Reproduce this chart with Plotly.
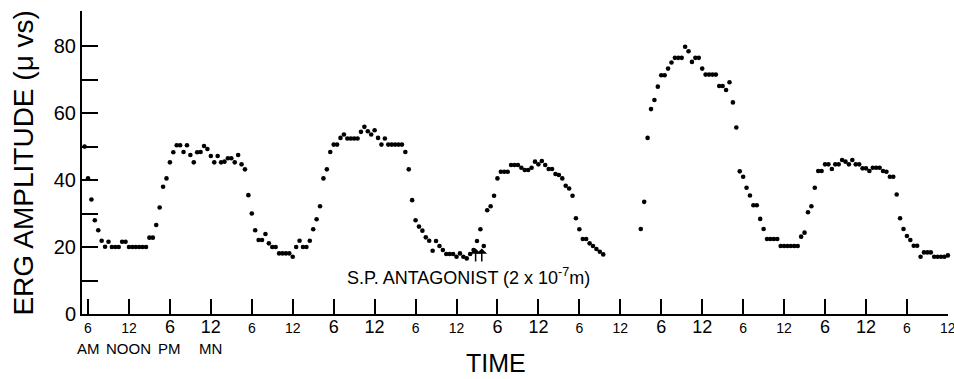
import plotly.graph_objects as go

# ERG amplitude (µV·s) sampled every half hour, starting 1 h before 6 AM on day 1.
# None marks the interval with no recording.
start_hour = -1.0
step_hour = 0.5
erg_uvs = [
    52, 50,
    40.5, 34.2, 28, 25, 21.9, 20.1, 21.6, 20, 20, 20,
    21.6, 21.6, 20, 20, 20, 20, 20, 20, 22.8, 22.8,
    26.6, 31.8, 38, 40.5, 45.3, 48.3, 50.4, 50.4, 48.4, 50.4,
    47.5, 45.3, 48.3, 48.4, 50.2, 49.3, 47.2, 45.3, 47.2, 45.3,
    45.5, 46.5, 46.5, 45.3, 47.5, 44.7, 43.2, 35.5, 30, 25,
    22.1, 22.1, 23.9, 21.1, 20, 20, 18.1, 18.1, 18.1, 18.1,
    17.1, 20, 21.9, 20, 20, 21.9, 25.3, 28.3, 32.2, 40.5,
    43.2, 48.4, 50.6, 50.6, 52.6, 53.6, 52.4, 52.4, 52.4, 52.4,
    54.4, 55.9, 54.6, 53.6, 54.9, 52.6, 50.6, 52.4, 50.6, 50.6,
    50.6, 50.6, 50.6, 48.4, 43.2, 34, 28, 26.1, 24.9, 22.9,
    21.9, 18.9, 21.8, 20.3, 19.1, 17.9, 17.9, 17.9, 17.1, 18.1,
    17.1, 16.6, 17.9, 19.1, 21.8, 25.3, 20.3, 31, 32.2, 35.3,
    40.5, 42.5, 42.5, 42.5, 44.5, 44.5, 44.5, 43.7, 43, 43,
    43.7, 45.5, 44.7, 45.7, 44.5, 43.3, 43.3, 41.8, 41.5, 40.5,
    38.3, 37.5, 35.3, 28.6, 25.3, 22.4, 22.4, 21.1, 20.3, 19.4,
    18.6, 17.8,
    None, None, None, None, None, None, None, None, None, None,
    25.4, 33.5, 52.6, 61.2, 63.9, 67.9, 71.3, 71.3,
    73.3, 75.1, 76.5, 76.5, 76.5, 79.8, 78.5, 75.3, 76.5, 76.5,
    73.3, 71.5, 71.5, 71.5, 71.5, 68.1, 68.1, 66.9, 69.2, 63.2,
    55.7, 42.6, 41, 37.7, 35.4, 32.5, 32.5, 28.4, 25.4, 22.4,
    22.4, 22.4, 22.4, 20.3, 20.3, 20.3, 20.3, 20.3, 20.3, 23.1,
    24.3, 30.4, 32.2, 37.7, 42.7, 42.7, 44.7, 44.7, 43.3, 44.7,
    44.7, 46, 45.5, 44.7, 46, 44.7, 44.7, 43.5, 43.5, 42.7,
    43.7, 43.7, 43.7, 42.7, 42.5, 41, 41, 35.7, 28.6, 25.4,
    23.3, 22.1, 20.4, 20.4, 17.1, 18.4, 18.4, 18.4, 17.1, 17.1,
    17.1, 17.1, 17.5, 17.5,
]
time_h = [start_hour + step_hour * i for i in range(len(erg_uvs))]

# Clock-time ticks every 6 h; evening and midnight labels are drawn larger.
tick_hours = [0, 6, 12, 18, 24, 30, 36, 42, 48, 54, 60, 66, 72, 78, 84, 90,
              96, 102, 108, 114, 120, 126]
tick_clock = ["6", "12", "6", "12", "6", "12", "6", "12", "6", "12", "6",
              "12", "6", "12", "6", "12", "6", "12", "6", "12", "6", "12"]
tick_is_large = [False, False, True, True] * 5 + [False, False]
period_names = ["AM", "NOON", "PM", "MN"]
period_hours = [0, 6, 12, 18]

y_ticks = [0, 10, 20, 30, 40, 50, 60, 70, 80]
y_labels = ["0", "", "20", "", "40", "", "60", "", "80"]

# Drug application marks
drug_hours = [56.8, 57.7]
drug_label = "S.P. ANTAGONIST (2 x 10<sup>-7</sup>m)"

FONT = "Liberation Sans, Arial, sans-serif"

tick_text = [
    f"<span style='font-size:{18 if big else 14}px'>{t}</span>"
    for t, big in zip(tick_clock, tick_is_large)
]

fig = go.Figure()
fig.add_trace(go.Scatter(
    x=time_h, y=erg_uvs, mode="markers",
    marker=dict(color="black", size=4.6, line=dict(width=0)),
    cliponaxis=False, hoverinfo="skip", showlegend=False,
))

annotations = []
for name, h in zip(period_names, period_hours):
    annotations.append(dict(
        x=h, y=-0.115, xref="x", yref="paper", text=name, showarrow=False,
        xanchor="center", yanchor="middle",
        font=dict(family=FONT, size=15, color="black"),
    ))
annotations.append(dict(
    x=0.478, y=-0.162, xref="paper", yref="paper", text="TIME",
    showarrow=False, xanchor="center", yanchor="middle",
    font=dict(family=FONT, size=25, color="black"),
))
annotations.append(dict(
    x=-0.068, y=0.5, xref="paper", yref="paper",
    text="ERG AMPLITUDE (\u03bc vs)", textangle=-90, showarrow=False,
    xanchor="center", yanchor="middle",
    font=dict(family=FONT, size=28, color="black"),
))
annotations.append(dict(
    x=55.7, y=11.3, xref="x", yref="y", text=drug_label, showarrow=False,
    xanchor="center", yanchor="middle",
    font=dict(family=FONT, size=18, color="black"),
))
for h in drug_hours:
    annotations.append(dict(
        x=h, y=19.6, ax=h, ay=15.2, xref="x", yref="y", axref="x", ayref="y",
        text="", showarrow=True, arrowhead=1, arrowsize=1.2, arrowwidth=1.5,
        arrowcolor="black",
    ))

fig.update_layout(
    width=954, height=379,
    margin=dict(l=82, r=6, t=11, b=65, autoexpand=False),
    paper_bgcolor="white", plot_bgcolor="white",
    font=dict(family=FONT, color="black"),
    annotations=annotations,
    xaxis=dict(
        range=[-0.88, 126.02], showgrid=False, zeroline=False,
        showline=True, linecolor="black", linewidth=2,
        ticks="inside", ticklen=15, tickwidth=1.5, tickcolor="black",
        tickmode="array", tickvals=tick_hours, ticktext=tick_text,
        tickfont=dict(family=FONT, size=14, color="black"),
        ticklabeloverflow="allow", automargin=False,
    ),
    yaxis=dict(
        range=[0, 90.5], showgrid=False, zeroline=False,
        showline=True, linecolor="black", linewidth=2,
        ticks="inside", ticklen=16, tickwidth=1.5, tickcolor="black",
        tickmode="array", tickvals=y_ticks, ticktext=y_labels,
        tickfont=dict(family=FONT, size=20, color="black"),
        automargin=False,
    ),
)

fig.write_html("out.html")
